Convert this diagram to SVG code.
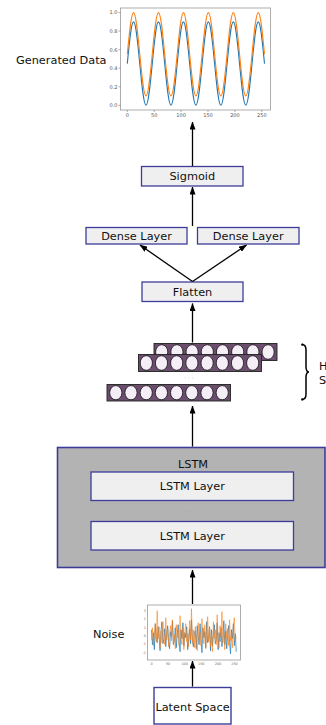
<svg xmlns="http://www.w3.org/2000/svg" width="326" height="725" viewBox="0 0 326 725">
  <style>
    .lbl { font-family: "DejaVu Sans", Verdana, sans-serif; font-size: 11.3px; fill: #111; }
    .side { font-family: "DejaVu Sans", Verdana, sans-serif; font-size: 11.3px; fill: #111; }
    .box { fill: #efefef; stroke: #3d3d99; stroke-width: 1.3; }
    .tick { font-family: "DejaVu Sans", Verdana, sans-serif; font-size: 5px; fill: #555; }
    .tiny { font-family: "DejaVu Sans", Verdana, sans-serif; font-size: 3.4px; fill: #666; }
    .frame { fill: #fff; stroke: #999; stroke-width: 0.8; }
    .bar { fill: #6b4d6e; stroke: #222; stroke-width: 0.9; }
    .cell { fill: #f5eef7; stroke: #111; stroke-width: 0.8; }
    .dots { font-family: "DejaVu Sans", Verdana, sans-serif; font-size: 6px; fill: #9a9a9a; }
    .conn { stroke: #000; stroke-width: 1.3; fill: none; marker-end: url(#head); }
    .wave { fill: none; stroke-width: 1.1; }
    .noise { fill: none; stroke-width: 0.7; vector-effect: non-scaling-stroke; stroke-linejoin: round; }
  </style>
  <defs>
    <marker id="head" viewBox="0 0 8 6" refX="7.5" refY="3" markerWidth="8" markerHeight="6" markerUnits="userSpaceOnUse" orient="auto">
      <path d="M0,0 L8,3 L0,6 z" fill="#000"/>
    </marker>
    <!-- 5.5 periods of sin(x), built from quarter-wave cubic segments -->
    <path id="wave" vector-effect="non-scaling-stroke" d="M0,0
      c.5123,.5123 1.0023,1 1.5708,1c.5685,0 1.0585,-.4877 1.5708,-1c.5123,-.5123 1.0023,-1 1.5708,-1c.5685,0 1.0585,.4877 1.5708,1
      c.5123,.5123 1.0023,1 1.5708,1c.5685,0 1.0585,-.4877 1.5708,-1c.5123,-.5123 1.0023,-1 1.5708,-1c.5685,0 1.0585,.4877 1.5708,1
      c.5123,.5123 1.0023,1 1.5708,1c.5685,0 1.0585,-.4877 1.5708,-1c.5123,-.5123 1.0023,-1 1.5708,-1c.5685,0 1.0585,.4877 1.5708,1
      c.5123,.5123 1.0023,1 1.5708,1c.5685,0 1.0585,-.4877 1.5708,-1c.5123,-.5123 1.0023,-1 1.5708,-1c.5685,0 1.0585,.4877 1.5708,1
      c.5123,.5123 1.0023,1 1.5708,1c.5685,0 1.0585,-.4877 1.5708,-1c.5123,-.5123 1.0023,-1 1.5708,-1c.5685,0 1.0585,.4877 1.5708,1
      c.5123,.5123 1.0023,1 1.5708,1c.5685,0 1.0585,-.4877 1.5708,-1"/>
  </defs>

  <!-- generated output plot -->
  <g id="generated-data">
    <text class="side" x="16" y="63.5" font-size="9.8">Generated Data</text>
    <rect class="frame" x="120.5" y="8" width="150" height="102"/>
    <use href="#wave" class="wave" stroke="#1f77b4" transform="translate(127.3,63.6) scale(3.97,-41.7)"/>
    <use href="#wave" class="wave" stroke="#ff7f0e" transform="translate(127.3,54.3) scale(3.97,-41.7)"/>
    <g stroke="#777" stroke-width="0.6">
      <path d="M118.5,12.6h2M118.5,31.1h2M118.5,49.7h2M118.5,68.2h2M118.5,86.8h2M118.5,105.3h2"/>
      <path d="M127.3,110v2M154.2,110v2M181.1,110v2M208,110v2M234.9,110v2M261.8,110v2"/>
    </g>
    <g class="tick" text-anchor="end">
      <text x="117.5" y="14.4">1.0</text>
      <text x="117.5" y="32.9">0.8</text>
      <text x="117.5" y="51.5">0.6</text>
      <text x="117.5" y="70">0.4</text>
      <text x="117.5" y="88.6">0.2</text>
      <text x="117.5" y="107.1">0.0</text>
    </g>
    <g class="tick" text-anchor="middle">
      <text x="127.3" y="117">0</text>
      <text x="154.2" y="117">50</text>
      <text x="181.1" y="117">100</text>
      <text x="208" y="117">150</text>
      <text x="234.9" y="117">200</text>
      <text x="261.8" y="117">250</text>
    </g>
  </g>

  <g id="sigmoid">
    <rect class="box" x="141.5" y="166.5" width="101.5" height="19.5"/>
    <text class="lbl" x="192.3" y="180.2" text-anchor="middle">Sigmoid</text>
  </g>

  <g id="dense-left">
    <rect class="box" x="86" y="227.5" width="101" height="16.5"/>
    <text class="lbl" x="136.5" y="240" text-anchor="middle">Dense Layer</text>
  </g>

  <g id="dense-right">
    <rect class="box" x="197.5" y="227.5" width="101.5" height="16.5"/>
    <text class="lbl" x="248.2" y="240" text-anchor="middle">Dense Layer</text>
  </g>

  <g id="flatten">
    <rect class="box" x="142" y="282" width="101" height="19.5"/>
    <text class="lbl" x="192.5" y="296" text-anchor="middle">Flatten</text>
  </g>

  <!-- stacked hidden-state vectors -->
  <g id="hidden-states">
    <rect class="bar" x="154" y="343.5" width="123" height="17"/>
    <g class="cell">
      <ellipse cx="161.7" cy="352" rx="6.1" ry="7.3"/>
      <ellipse cx="176.9" cy="352" rx="6.1" ry="7.3"/>
      <ellipse cx="192.1" cy="352" rx="6.1" ry="7.3"/>
      <ellipse cx="207.3" cy="352" rx="6.1" ry="7.3"/>
      <ellipse cx="222.5" cy="352" rx="6.1" ry="7.3"/>
      <ellipse cx="237.7" cy="352" rx="6.1" ry="7.3"/>
      <ellipse cx="252.9" cy="352" rx="6.1" ry="7.3"/>
      <ellipse cx="268.1" cy="352" rx="6.1" ry="7.3"/>
    </g>
    <rect class="bar" x="138.5" y="354.5" width="123" height="17"/>
    <g class="cell">
      <ellipse cx="146.3" cy="363" rx="6.1" ry="7.3"/>
      <ellipse cx="161.5" cy="363" rx="6.1" ry="7.3"/>
      <ellipse cx="176.7" cy="363" rx="6.1" ry="7.3"/>
      <ellipse cx="191.9" cy="363" rx="6.1" ry="7.3"/>
      <ellipse cx="207.1" cy="363" rx="6.1" ry="7.3"/>
      <ellipse cx="222.3" cy="363" rx="6.1" ry="7.3"/>
      <ellipse cx="237.5" cy="363" rx="6.1" ry="7.3"/>
      <ellipse cx="252.7" cy="363" rx="6.1" ry="7.3"/>
    </g>
    <text class="dots" x="189" y="380" text-anchor="middle">· · ·</text>
    <rect class="bar" x="107" y="384.5" width="123.5" height="16.5"/>
    <g class="cell">
      <ellipse cx="115.8" cy="392.7" rx="6.1" ry="7.1"/>
      <ellipse cx="131" cy="392.7" rx="6.1" ry="7.1"/>
      <ellipse cx="146.2" cy="392.7" rx="6.1" ry="7.1"/>
      <ellipse cx="161.4" cy="392.7" rx="6.1" ry="7.1"/>
      <ellipse cx="176.6" cy="392.7" rx="6.1" ry="7.1"/>
      <ellipse cx="191.8" cy="392.7" rx="6.1" ry="7.1"/>
      <ellipse cx="207" cy="392.7" rx="6.1" ry="7.1"/>
      <ellipse cx="222.2" cy="392.7" rx="6.1" ry="7.1"/>
    </g>
    <path d="M302,344.5 Q306,344.5 306,350 L306,366.5 Q306,372 309,372 Q306,372 306,377.5 L306,394 Q306,399.5 302,399.5" fill="none" stroke="#000" stroke-width="1.5"/>
    <circle cx="302.3" cy="344.6" r="1.2"/>
    <circle cx="302.3" cy="399.4" r="1.2"/>
    <text class="side" x="319" y="370">H</text>
    <text class="side" x="319" y="384">S</text>
  </g>

  <g id="lstm">
    <rect x="57.5" y="447.5" width="267.5" height="120" fill="#b3b3b3" stroke="#3d3d99" stroke-width="1.6"/>
    <text class="lbl" x="193" y="467.5" text-anchor="middle">LSTM</text>
    <g id="lstm-layer-1">
      <rect class="box" x="91" y="472" width="202.5" height="28.5"/>
      <text class="lbl" x="192.3" y="490.3" text-anchor="middle">LSTM Layer</text>
    </g>
    <text class="dots" x="188" y="513" text-anchor="middle">· · ·</text>
    <g id="lstm-layer-2">
      <rect class="box" x="91" y="521.5" width="202.5" height="28.5"/>
      <text class="lbl" x="192.3" y="540" text-anchor="middle">LSTM Layer</text>
    </g>
  </g>

  <!-- input noise plot -->
  <g id="noise">
    <text class="side" x="93" y="637.5">Noise</text>
    <rect class="frame" x="147.5" y="605" width="93" height="55"/>
    <path class="noise" stroke="#1f77b4" transform="translate(151.5,635.7) scale(0.952,1)" d="M0,-6 1,9 2,-3 3,14 4,-12 5,4 6,7 7,-9 8,2 9,15 10,-5 11,-14 12,8 13,3 14,-7 15,11 16,-2 17,-10 18,6 19,13 20,-4 21,1 22,-15 23,9 24,5 25,-8 26,12 27,-1 28,-11 29,7 30,16 31,-6 32,3 33,-13 34,10 35,-3 36,2 37,-9 38,14 39,4 40,-7 41,8 42,-16 43,6 44,11 45,-2 46,-5 47,13 48,-10 49,1 50,9 51,-12 52,5 53,17 54,-8 55,2 56,-4 57,12 58,-14 59,7 60,3 61,-9 62,15 63,-6 64,10 65,-1 66,-11 67,8 68,4 69,-13 70,14 71,-3 72,6 73,-8 74,11 75,2 76,-15 77,9 78,-5 79,13 80,1 81,-10 82,7 83,18 84,-6 85,3 86,-12 87,10 88,-2 89,16"/>
    <path class="noise" stroke="#ff7f0e" stroke-opacity="0.85" transform="translate(151.5,635.7) scale(0.952,1)" d="M0,4 1,-8 2,10 3,-2 4,-12 5,6 6,-25 7,3 8,-9 9,12 10,-5 11,7 12,-14 13,1 14,9 15,-18 16,4 17,-7 18,11 19,-3 20,-10 21,5 22,-16 23,8 24,-1 25,13 26,-11 27,2 28,-6 29,10 30,-20 31,3 32,9 33,-8 34,14 35,-4 36,-12 37,6 38,-2 39,11 40,-15 41,4 42,-27 43,7 44,-6 45,12 46,-9 47,1 48,15 49,-13 50,5 51,-3 52,10 53,-17 54,2 55,8 56,-11 57,13 58,-5 59,-19 60,6 61,-8 62,11 63,-2 64,16 65,-14 66,3 67,-6 68,9 69,-21 70,4 71,12 72,-10 73,1 74,-24 75,7 76,-4 77,14 78,-12 79,3 80,-7 81,10 82,-16 83,5 84,-2 85,12 86,-9 87,-18 88,6 89,1"/>
    <g class="tiny" text-anchor="end">
      <text x="146" y="612">3</text>
      <text x="146" y="620.3">2</text>
      <text x="146" y="628.6">1</text>
      <text x="146" y="636.9">0</text>
      <text x="146" y="645.2">-1</text>
      <text x="146" y="653.5">-2</text>
    </g>
    <g class="tiny" text-anchor="middle">
      <text x="151.5" y="665">0</text>
      <text x="168.1" y="665">50</text>
      <text x="184.7" y="665">100</text>
      <text x="201.3" y="665">150</text>
      <text x="217.9" y="665">200</text>
      <text x="234.5" y="665">250</text>
    </g>
  </g>

  <g id="latent-space">
    <rect x="154" y="687.5" width="77" height="36.5" fill="#fff" stroke="#3d3d99" stroke-width="1.4"/>
    <text class="lbl" x="192.5" y="711" text-anchor="middle">Latent Space</text>
  </g>

  <g id="connectors">
    <path class="conn" d="M192.5,166 V122"/>
    <path class="conn" d="M192.5,226 V187"/>
    <path class="conn" d="M192.5,281.5 L140,245"/>
    <path class="conn" d="M192.5,281.5 L246.5,245"/>
    <path class="conn" d="M192.5,342.5 V303.5"/>
    <path class="conn" d="M192.5,446.5 V406"/>
    <path class="conn" d="M192.5,604 V570"/>
    <path class="conn" d="M192.5,686.5 V661"/>
  </g>
</svg>
